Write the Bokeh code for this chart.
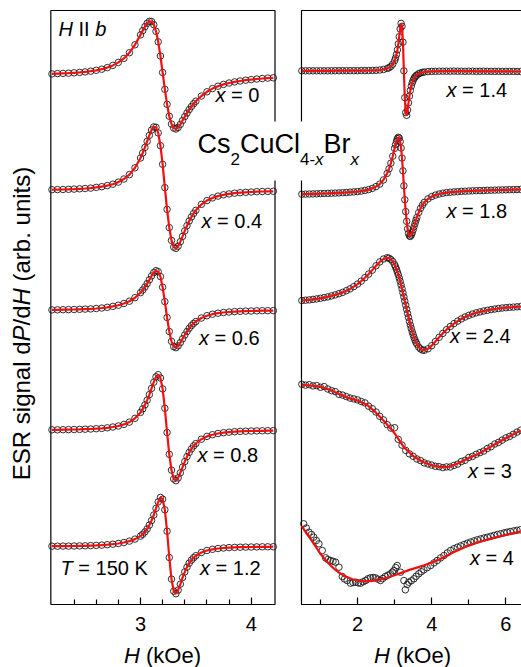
import numpy as np
from bokeh.plotting import figure
from bokeh.models import Range1d, LinearAxis, FixedTicker, Label, BoxAnnotation
from bokeh.embed import file_html
from bokeh.resources import INLINE

# ---------------------------------------------------------------------------
# ESR derivative spectra dP/dH of Cs2CuCl(4-x)Br(x), H || b, T = 150 K
# Signal in arbitrary units, field in kOe.
# ---------------------------------------------------------------------------

# left panel: common field sweep
H_left = [2.20, 2.25, 2.30, 2.35, 2.40, 2.45, 2.50, 2.55, 2.60, 2.65, 2.70, 2.75,
          2.80, 2.85, 2.90, 2.95, 3.00, 3.02, 3.04, 3.06, 3.08, 3.10, 3.12, 3.14,
          3.16, 3.18, 3.20, 3.22, 3.24, 3.26, 3.28, 3.30, 3.32, 3.34, 3.36, 3.38,
          3.40, 3.42, 3.44, 3.46, 3.48, 3.50, 3.55, 3.60, 3.65, 3.70, 3.75, 3.80,
          3.85, 3.90, 3.95, 4.00, 4.05, 4.10, 4.15, 4.20]

S_x0 = [1.1, 1.4, 1.6, 1.8, 2.2, 2.6, 3.1, 3.8, 4.7, 5.8, 7.4, 9.6,
        12.6, 16.6, 22.3, 30.2, 40.1, 44.4, 48.3, 51.7, 53.7, 53.5, 50.3, 43.7,
        33.2, 19.0, 2.5, -14.3, -29.3, -41.2, -49.0, -53.1, -54.0, -52.4, -49.4, -45.5,
        -41.6, -38.0, -34.6, -31.5, -28.7, -26.2, -21.0, -16.8, -13.6, -11.2, -9.4, -8.0,
        -6.9, -6.0, -5.2, -4.6, -4.0, -3.5, -3.1, -2.8]

S_x04 = [0.8, 0.9, 1.0, 1.2, 1.4, 1.7, 2.0, 2.4, 3.1, 3.8, 4.9, 6.3,
         8.4, 11.5, 15.9, 22.7, 32.5, 37.5, 43.1, 49.2, 55.1, 60.5, 63.6, 63.2,
         57.6, 44.8, 26.2, 2.9, -18.9, -37.1, -49.9, -56.6, -57.9, -55.7, -51.2, -45.9,
         -40.4, -35.2, -30.5, -26.4, -22.9, -19.8, -13.9, -10.1, -7.4, -5.6, -4.3, -3.4,
         -2.7, -2.2, -1.8, -1.5, -1.2, -1.0, -0.9, -0.8]

S_x06 = [0.3, 0.4, 0.5, 0.6, 0.7, 0.9, 1.1, 1.3, 1.7, 2.2, 2.9, 3.8,
         5.0, 6.7, 9.0, 12.5, 17.5, 20.2, 23.2, 26.6, 30.4, 34.3, 37.6, 39.5,
         38.5, 33.6, 23.0, 8.6, -7.3, -21.3, -31.1, -36.4, -37.5, -35.6, -32.4, -28.6,
         -24.8, -21.3, -18.1, -15.4, -13.2, -11.3, -7.8, -5.5, -4.0, -3.0, -2.3, -1.8,
         -1.4, -1.1, -0.9, -0.8, -0.6, -0.5, -0.5, -0.4]

S_x08 = [0.4, 0.4, 0.5, 0.6, 0.7, 0.8, 1.0, 1.2, 1.5, 1.8, 2.4, 3.2,
         4.2, 5.8, 8.1, 11.9, 17.8, 21.3, 25.3, 30.0, 35.6, 41.8, 48.0, 53.4,
         55.5, 52.2, 41.3, 21.9, -2.3, -24.1, -39.9, -48.7, -50.5, -47.7, -42.6, -36.9,
         -31.4, -26.4, -22.2, -18.7, -15.7, -13.3, -9.0, -6.2, -4.5, -3.3, -2.5, -2.0,
         -1.5, -1.2, -1.0, -0.8, -0.7, -0.6, -0.5, -0.4]

S_x12 = [0.3, 0.3, 0.4, 0.4, 0.5, 0.6, 0.7, 0.9, 1.1, 1.4, 1.8, 2.3,
         3.0, 4.0, 5.4, 7.4, 10.4, 12.2, 14.6, 17.6, 21.4, 26.0, 31.5, 38.1,
         44.6, 49.1, 47.3, 36.7, 15.3, -11.0, -32.6, -44.7, -47.2, -43.6, -37.6, -31.1,
         -25.4, -20.6, -16.7, -13.6, -11.2, -9.2, -6.0, -4.0, -2.8, -2.0, -1.5, -1.1,
         -0.9, -0.7, -0.6, -0.5, -0.4, -0.3, -0.3, -0.2]

# right panel: common field sweep for the narrow and medium lines
H_right = [0.5, 0.6, 0.7, 0.8, 0.9, 1.0, 1.1, 1.2, 1.3, 1.4, 1.5, 1.6,
           1.7, 1.8, 1.9, 2.0, 2.1, 2.2, 2.3, 2.4, 2.5, 2.6, 2.7, 2.8,
           2.85, 2.9, 2.95,
           3.0, 3.025, 3.05, 3.075, 3.1, 3.125, 3.15, 3.175, 3.2, 3.225, 3.25, 3.275,
           3.3, 3.325, 3.35, 3.375, 3.4, 3.425, 3.45, 3.475, 3.5, 3.525, 3.55, 3.575, 3.6,
           3.65, 3.7, 3.75,
           3.8, 3.9, 4.0, 4.1, 4.2, 4.3, 4.4, 4.5, 4.6, 4.7, 4.8, 4.9,
           5.0, 5.1, 5.2, 5.3, 5.4, 5.5, 5.6, 5.7, 5.8, 5.9, 6.0, 6.1,
           6.2, 6.3, 6.4]

S_x14 = [0.0, 0.0, 0.0, 0.0, 0.0, 0.0, 0.0, 0.0, 0.0, 0.1, 0.1, 0.1,
         0.1, 0.1, 0.1, 0.1, 0.2, 0.2, 0.3, 0.4, 0.5, 0.8, 1.3, 2.3,
         3.1, 4.4, 6.6,
         10.1, 12.8, 16.3, 20.9, 26.9, 34.1, 41.8, 47.4, 44.5, 28.6, 0.0, -26.8,
         -41.8, -44.5, -39.2, -32.0, -25.3, -19.6, -15.3, -12.0, -9.5, -7.6, -6.2, -5.1, -4.2,
         -2.9, -2.1, -1.6,
         -1.2, -0.8, -0.6, -0.5, -0.4, -0.4, -0.4, -0.4, -0.3, -0.4, -0.4, -0.5,
         -0.4, -0.4, -0.5, -0.5, -0.4, -0.5, -0.5, -0.6, -0.5, -0.6, -0.6, -0.6,
         -0.6, -0.7, -0.7]

S_x18 = [-2.2, -2.1, -2.0, -1.9, -1.8, -1.6, -1.5, -1.4, -1.2, -1.1, -0.9, -0.7,
         -0.5, -0.2, 0.1, 0.4, 0.9, 1.6, 2.4, 3.6, 5.4, 7.9, 12.1, 18.6,
         23.2, 28.9, 35.8,
         43.6, 47.3, 50.8, 53.3, 54.7, 53.9, 50.4, 44.0, 34.0, 21.2, 6.2, -7.7,
         -19.6, -29.3, -36.8, -41.5, -44.0, -44.4, -43.0, -40.7, -37.8, -34.6, -31.5, -28.3, -25.5,
         -20.5, -16.3, -13.1,
         -10.4, -6.9, -4.6, -3.1, -2.0, -1.2, -0.6, -0.2, 0.1, 0.3, 0.6, 0.8,
         1.0, 1.2, 1.3, 1.4, 1.5, 1.7, 1.8, 1.9, 2.0, 2.1, 2.2, 2.3,
         2.4, 2.5, 2.6]

S_x24 = [3.5, 3.8, 4.1, 4.6, 5.1, 5.7, 6.4, 7.1, 8.1, 9.1, 10.3, 11.6,
         13.3, 15.1, 17.4, 19.9, 22.9, 26.3, 29.9, 33.9, 38.2, 42.1, 45.0, 46.3,
         45.8, 44.5, 42.5,
         39.4, 37.1, 34.7, 31.9, 29.2, 25.9, 22.7, 19.0, 15.3, 11.1, 7.1, 3.0,
         -1.2, -5.3, -9.4, -13.4, -17.4, -21.1, -24.5, -27.8, -30.7, -33.6, -36.1, -38.2, -40.1,
         -43.1, -44.9, -46.0,
         -46.3, -44.8, -41.7, -37.5, -33.3, -29.4, -25.7, -22.5, -19.6, -17.1, -14.9, -13.0,
         -11.4, -10.0, -8.8, -7.9, -7.0, -6.3, -5.6, -5.0, -4.5, -4.0, -3.7, -3.3,
         -3.1, -2.8, -2.5]

# x = 3: measured points and fitted curve
H_x3 = [0.5, 0.6, 0.7, 0.8, 0.9, 1.0, 1.1, 1.2, 1.3, 1.4, 1.5, 1.6,
        1.7, 1.8, 1.9, 2.0, 2.1, 2.2, 2.3, 2.4, 2.5, 2.6, 2.7, 2.8,
        2.9, 3.0, 3.1, 3.2, 3.3, 3.4, 3.5, 3.6, 3.7, 3.8, 3.9, 4.0,
        4.1, 4.2, 4.3, 4.4, 4.5, 4.6, 4.7, 4.8, 4.9, 5.0, 5.1, 5.2,
        5.3, 5.4, 5.5, 5.6, 5.7, 5.8, 5.9, 6.0, 6.1, 6.2, 6.3, 6.4]
S_x3 = [46.2, 45.4, 45.8, 44.6, 44.9, 43.2, 43.9, 41.5, 39.8, 38.9, 36.2, 35.4,
        33.9, 32.4, 31.6, 30.6, 29.0, 27.6, 24.3, 21.8, 18.5, 14.2, 10.6, 5.9,
        2.4, 2.8, -8.9, -14.6, -19.9, -23.4, -25.8, -28.5, -30.1, -32.4, -33.5, -34.6,
        -35.8, -36.2, -37.1, -36.4, -36.5, -34.9, -33.6, -31.0, -29.8, -27.0, -25.9, -23.8,
        -22.1, -20.6, -18.0, -16.2, -13.5, -11.9, -9.6, -7.4, -5.9, -3.8, -1.6, 0.3]
H_x3_fit = [0.5, 0.75, 1.0, 1.25, 1.5, 1.75, 2.0, 2.25, 2.5, 2.75, 3.0, 3.25, 3.5,
            3.75, 4.0, 4.25, 4.5, 4.75, 5.0, 5.25, 5.5, 5.75, 6.0, 6.25, 6.4]
S_x3_fit = [45.6, 45.0, 43.6, 40.8, 36.6, 32.6, 30.0, 25.8, 17.8, 8.0, -2.8, -16.7, -25.5,
            -31.2, -34.8, -36.7, -36.1, -32.2, -27.5, -23.6, -18.2, -12.8, -7.8, -2.8, 0.0]

# x = 4: measured points and fitted curve
H_x4 = [0.55, 0.62, 0.69, 0.76, 0.82, 0.89, 0.96, 1.05, 1.14, 1.20, 1.27, 1.34,
        1.41, 1.50, 1.59, 1.65, 1.72, 1.81, 1.88, 1.95, 2.02, 2.08, 2.15, 2.22,
        2.28, 2.35, 2.42, 2.48, 2.55, 2.62, 2.68, 2.75, 2.82, 2.89, 2.94, 2.98,
        3.03, 3.07, 3.16, 3.25, 3.29, 3.34, 3.38, 3.45, 3.52, 3.58, 3.65, 3.72,
        3.79, 3.88, 3.97, 4.06, 4.15, 4.24, 4.33, 4.42, 4.51, 4.60, 4.69, 4.78,
        4.87, 4.96, 5.05, 5.14, 5.23, 5.32, 5.41, 5.50, 5.59, 5.68, 5.77, 5.86,
        5.95, 6.03, 6.12, 6.21, 6.30, 6.39]
S_x4 = [36.7, 32.5, 28.3, 26.0, 23.3, 20.0, 16.7, 10.0, 2.7, 1.0, 0.0, -0.8,
        -1.7, -6.7, -16.0, -18.5, -20.0, -22.7, -22.0, -21.7, -22.4, -22.7, -21.3, -20.0,
        -18.3, -17.3, -17.0, -17.3, -18.6, -20.0, -18.0, -16.0, -14.6, -13.3, -11.6, -10.0,
        -7.0, -5.0, -11.7, -20.0, -29.3, -24.0, -21.7, -20.3, -18.3, -15.8, -13.3, -11.2,
        -9.3, -7.2, -5.0, -2.4, 0.0, 2.6, 5.0, 7.6, 10.0, 11.8, 13.3, 14.6,
        16.0, 17.3, 18.5, 19.6, 20.7, 21.6, 22.5, 23.3, 24.2, 25.1, 26.0, 26.8,
        27.6, 28.3, 29.0, 29.6, 30.2, 30.7]
H_x4_fit = [0.5, 0.6, 0.7, 0.8, 0.9, 1.0, 1.1, 1.2, 1.3, 1.4, 1.5, 1.6, 1.7, 1.8, 1.9,
            2.0, 2.2, 2.4, 2.6, 2.8, 3.0, 3.2, 3.4, 3.6, 3.8, 4.0, 4.2, 4.4, 4.6, 4.8,
            5.0, 5.2, 5.4, 5.6, 5.8, 6.0, 6.2, 6.4]
S_x4_fit = [34.5, 28.5, 23.3, 17.9, 12.3, 6.7, 2.2, -2.0, -5.9, -9.2, -12.0, -14.4, -16.3, -17.8, -19.2,
            -20.0, -20.8, -20.3, -19.2, -17.0, -14.8, -12.1, -9.4, -7.1, -4.8, -2.0, 1.1, 4.6, 8.4, 11.8,
            14.9, 17.6, 19.8, 21.9, 23.8, 25.7, 27.3, 29.1]

labels_left = ["0", "0.4", "0.6", "0.8", "1.2"]
labels_right = ["1.4", "1.8", "2.4", "3", "4"]

# ---------------------------------------------------------------------------
# page geometry (pixels) and pixel <-> data helpers; the frame fills the page
# ---------------------------------------------------------------------------
W, HT = 521, 667
SL, PX3 = 110.7, 140.0                    # left scale: px per kOe, pixel of 3 kOe
SR, PX2 = 37.1, 357.0                     # right scale: px per kOe, pixel of 2 kOe
Y0 = 604                                  # pixel row of the panels' bottom edge
FONT = "Liberation Sans"
BASE_SHIFT = 0.38                         # label anchor vs. glyph baseline, in em


def lx(px):
    return 3.0 + (px - PX3) / SL


def rx(px):
    return 2.0 + (px - PX2) / SR


def yv(py):
    return Y0 - py


p = figure(width=W, height=HT,
           x_range=Range1d(lx(0), lx(W)), y_range=Range1d(yv(HT), yv(0)),
           min_border_left=0, min_border_right=0, min_border_top=0, min_border_bottom=0,
           x_axis_location=None, y_axis_location=None,
           toolbar_location=None, output_backend="svg",
           outline_line_color=None, background_fill_color="white",
           border_fill_color="white")
p.grid.visible = False
p.extra_x_ranges = {"right": Range1d(rx(0), rx(W))}

PANEL_TOP = yv(10)
PANEL_BOTTOM = yv(604)

# panel frames
p.quad(left=[2.19], right=[lx(274.5)], bottom=[PANEL_BOTTOM], top=[PANEL_TOP],
       fill_color=None, line_color="black", line_width=1.2)
p.quad(left=[0.49], right=[rx(540)], bottom=[PANEL_BOTTOM], top=[PANEL_TOP],
       fill_color=None, line_color="black", line_width=1.2, x_range_name="right")

# vertical stacking of the spectra (baseline of each trace)
offsets_left = [yv(74.5), yv(190), yv(309.7), yv(429.7), yv(546)]
offsets_right = [yv(70.3), yv(191.5), yv(303.5), yv(430), yv(560)]

RED = "#f01010"
CIRC = dict(marker="circle", size=6.5, fill_color=None, line_color="#1a1a1a", line_width=0.9)

for S, off in zip([S_x0, S_x04, S_x06, S_x08, S_x12], offsets_left):
    y = np.array(S) + off
    p.scatter(H_left, y, **CIRC)
    p.line(H_left, y, line_color=RED, line_width=2.2)

for S, off in zip([S_x14, S_x18, S_x24], offsets_right[:3]):
    y = np.array(S) + off
    p.scatter(H_right, y, x_range_name="right", **CIRC)
    p.line(H_right, y, line_color=RED, line_width=2.2, x_range_name="right")

p.scatter(H_x3, np.array(S_x3) + offsets_right[3], x_range_name="right", **CIRC)
p.line(H_x3_fit, np.array(S_x3_fit) + offsets_right[3], line_color=RED, line_width=2.2,
       x_range_name="right")
p.scatter(H_x4, np.array(S_x4) + offsets_right[4], x_range_name="right", **CIRC)
p.line(H_x4_fit, np.array(S_x4_fit) + offsets_right[4], line_color=RED, line_width=2.2,
       x_range_name="right")


# field axes, ticks pointing inward
def field_axis(range_name, bounds, ticks, minor):
    ax = LinearAxis(x_range_name=range_name, fixed_location=PANEL_BOTTOM, bounds=bounds,
                    ticker=FixedTicker(ticks=ticks, minor_ticks=minor))
    ax.axis_line_color = None
    ax.major_tick_in, ax.major_tick_out = 7, 0
    ax.minor_tick_in, ax.minor_tick_out = 5, 0
    ax.major_tick_line_color = "black"
    ax.minor_tick_line_color = "black"
    ax.major_tick_line_width = 1.2
    ax.minor_tick_line_width = 1.2
    ax.major_label_text_font = FONT
    ax.major_label_text_font_size = "20px"
    ax.major_label_text_color = "black"
    ax.major_label_standoff = 12
    p.add_layout(ax, "below")


field_axis("default", (2.19, lx(274.5)), [3, 4],
           [2.4, 2.6, 2.8, 3.2, 3.4, 3.6, 3.8])
field_axis("right", (0.49, 7.0), [2, 4, 6], [1, 3, 5])

# advance widths (per 1000 em) for laying out mixed-style runs
ADV = {" ": 278, "(": 333, ")": 333, ".": 278, "/": 278, "-": 333, "=": 584,
       "a": 556, "b": 556, "d": 556, "e": 556, "g": 556, "i": 222, "k": 500,
       "l": 222, "n": 556, "r": 333, "s": 500, "t": 278, "u": 556, "x": 500,
       "B": 667, "C": 722, "E": 667, "H": 722, "I": 278, "K": 667, "O": 778,
       "P": 667, "R": 722, "S": 667, "T": 611}


def adv(text, size):
    return sum(ADV.get(c, 556) for c in text) * size / 1000.0


def runs(parts, px, py, vertical=False):
    """Lay out (text, style, size, drop) pieces along one baseline starting at pixel (px, py).
    Leading blanks are turned into advances so that no text starts with a space."""
    pos = 0.0
    for text, style, size, drop in parts:
        core = text.strip(" ")
        lead = len(text) - len(text.lstrip(" "))
        pos += adv(" " * lead, size)
        shift = BASE_SHIFT * size
        if vertical:
            x_px, y_px, ang = px + drop - shift, py - pos, np.pi / 2
        else:
            x_px, y_px, ang = px + pos, py + drop - shift, 0.0
        p.add_layout(Label(x=lx(x_px), y=yv(y_px), text=core, angle=ang,
                           text_font=FONT, text_font_size=f"{size}px",
                           text_font_style=style, text_color="black",
                           text_align="left", text_baseline="alphabetic"))
        pos += adv(text.lstrip(" "), size)


# compound name with white backing
p.add_layout(BoxAnnotation(left=lx(193), right=lx(372), top=yv(121), bottom=yv(180),
                           fill_color="white", fill_alpha=1.0, line_color=None))
runs([("Cs", "normal", 27, 0), ("2", "normal", 17, 11), ("CuCl", "normal", 27, 0),
      ("4-", "normal", 17, 11), ("x", "italic", 17, 11), ("Br", "normal", 27, 0),
      ("x", "italic", 17, 11)], 197, 154)

# panel annotations
runs([("H", "italic", 20, 0), (" II", "normal", 20, 0), (" b", "italic", 20, 0)], 58, 36.5)
runs([("T", "italic", 20, 0), (" = 150 K", "normal", 20, 0)], 60, 575)

pos_left = [(215, 102.3), (201, 228.3), (198.5, 345), (197, 461.7), (199.5, 575)]
pos_right = [(446, 96.7), (446, 218.3), (449.5, 343.3), (467.5, 478.3), (469.5, 565)]
for lab, (px, py) in zip(labels_left + labels_right, pos_left + pos_right):
    runs([("x", "italic", 20, 0), (" = " + lab, "normal", 20, 0)], px, py)

# axis titles
for cx in (162, 412):
    parts = [("H", "italic", 22, 0), (" (kOe)", "normal", 22, 0)]
    w = sum(adv(t, s) for t, _, s, _ in parts)
    runs(parts, cx - w / 2, 663)

ylab = [("ESR signal d", "normal", 24, 0), ("P", "italic", 24, 0), ("/d", "normal", 24, 0),
        ("H", "italic", 24, 0), (" (arb. units)", "normal", 24, 0)]
ylen = sum(adv(t, s) for t, _, s, _ in ylab)
runs(ylab, 30.5, 323 + ylen / 2, vertical=True)

open("out.html", "w").write(file_html(p, INLINE))
